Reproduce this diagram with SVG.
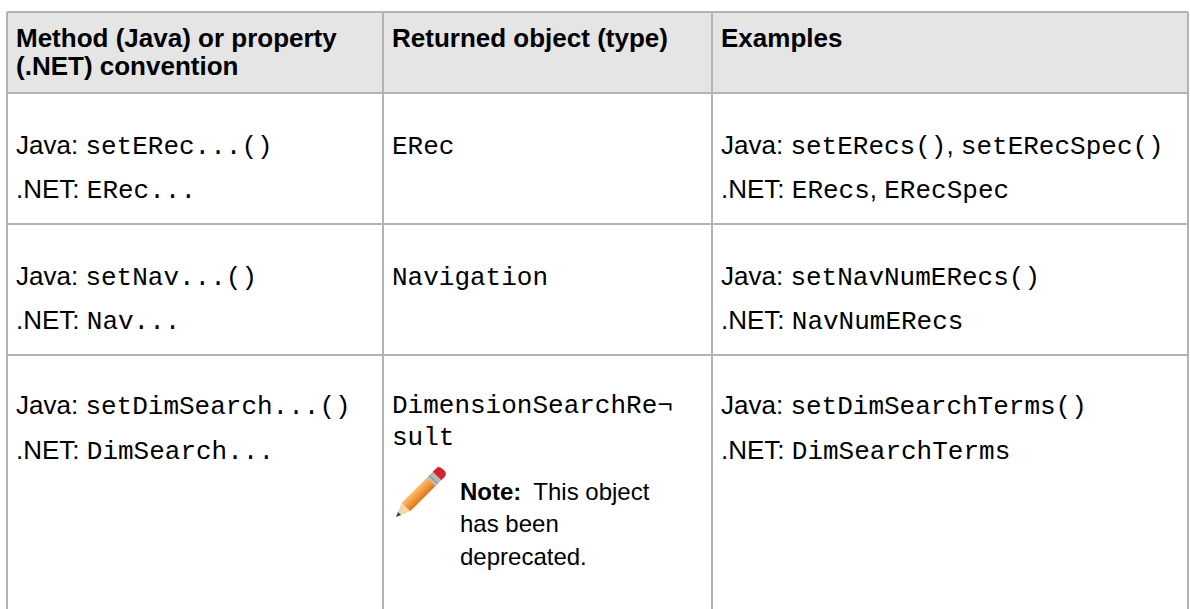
<svg xmlns="http://www.w3.org/2000/svg" width="1190" height="609" viewBox="0 0 1190 609">
<defs>
<style>
.t{font-family:"Liberation Sans",Arial,sans-serif;font-size:26px;fill:#000}
.n{font-family:"Liberation Sans",Arial,sans-serif;font-size:24px;fill:#000}
.b{font-family:"Liberation Sans",Arial,sans-serif;font-size:26px;font-weight:bold;fill:#000}
.nb{font-weight:bold}
.m{font-family:"Liberation Mono","Courier New",monospace;font-size:26px;fill:#000}
.ln{stroke:#b3b3b3;stroke-width:2;fill:none}
</style>
<linearGradient id="body" x1="0" y1="0" x2="0" y2="1">
<stop offset="0" stop-color="#f8c27a"/>
<stop offset="0.5" stop-color="#f29a3a"/>
<stop offset="1" stop-color="#d9781e"/>
</linearGradient>
</defs>
<rect x="0" y="0" width="1190" height="609" fill="#fff"/>
<g id="header">
<rect x="7" y="12" width="1181" height="81" fill="#e5e5e5"/>
<text class="b" x="16" y="47">Method (Java) or property</text>
<text class="b" x="16" y="75">(.NET) convention</text>
<text class="b" x="392" y="47">Returned object (type)</text>
<text class="b" x="721" y="47">Examples</text>
</g>
<g id="grid">
<line class="ln" x1="7" y1="12" x2="1188" y2="12"/>
<line class="ln" x1="7" y1="12" x2="7" y2="609"/>
<line class="ln" x1="1188" y1="12" x2="1188" y2="609"/>
<line class="ln" x1="383" y1="12" x2="383" y2="609"/>
<line class="ln" x1="712" y1="12" x2="712" y2="609"/>
<line class="ln" x1="7" y1="93" x2="1188" y2="93"/>
<line class="ln" x1="7" y1="224" x2="1188" y2="224"/>
<line class="ln" x1="7" y1="355" x2="1188" y2="355"/>
</g>
<g id="row1">
<text class="t" x="16" y="154">Java: <tspan class="m">setERec...()</tspan></text>
<text class="t" x="16" y="198">.NET: <tspan class="m">ERec...</tspan></text>
<text class="m" x="392" y="154">ERec</text>
<text class="t" x="721" y="154">Java: <tspan class="m">setERecs()</tspan>, <tspan class="m">setERecSpec()</tspan></text>
<text class="t" x="721" y="198">.NET: <tspan class="m">ERecs</tspan>, <tspan class="m">ERecSpec</tspan></text>
</g>
<g id="row2">
<text class="t" x="16" y="285">Java: <tspan class="m">setNav...()</tspan></text>
<text class="t" x="16" y="329">.NET: <tspan class="m">Nav...</tspan></text>
<text class="m" x="392" y="285">Navigation</text>
<text class="t" x="721" y="285">Java: <tspan class="m">setNavNumERecs()</tspan></text>
<text class="t" x="721" y="329">.NET: <tspan class="m">NavNumERecs</tspan></text>
</g>
<g id="row3">
<text class="t" x="16" y="414">Java: <tspan class="m">setDimSearch...()</tspan></text>
<text class="t" x="16" y="459">.NET: <tspan class="m">DimSearch...</tspan></text>
<text class="m" x="392" y="413">DimensionSearchRe¬</text>
<text class="m" x="392" y="445">sult</text>
<g id="pencil" transform="translate(396,517) rotate(-45)">
<polygon points="0,0 14,-6 14,6" fill="#f3d7a8"/>
<polygon points="0,0 5,-2.2 5,2.2" fill="#444"/>
<rect x="14" y="-6" width="36" height="12" fill="url(#body)"/>
<rect x="50" y="-6" width="8" height="12" fill="#b9b9b9"/>
<line x1="53" y1="-6" x2="53" y2="6" stroke="#8a8a8a" stroke-width="1"/>
<path d="M58,-6 L63,-6 Q67,-6 67,0 Q67,6 63,6 L58,6 Z" fill="#d0262b"/>
</g>
<text class="n" x="460" y="500"><tspan class="nb">Note:</tspan><tspan dx="12">This object</tspan></text>
<text class="n" x="460" y="532">has been</text>
<text class="n" x="460" y="565">deprecated.</text>
<text class="t" x="721" y="414">Java: <tspan class="m">setDimSearchTerms()</tspan></text>
<text class="t" x="721" y="459">.NET: <tspan class="m">DimSearchTerms</tspan></text>
</g>
</svg>
